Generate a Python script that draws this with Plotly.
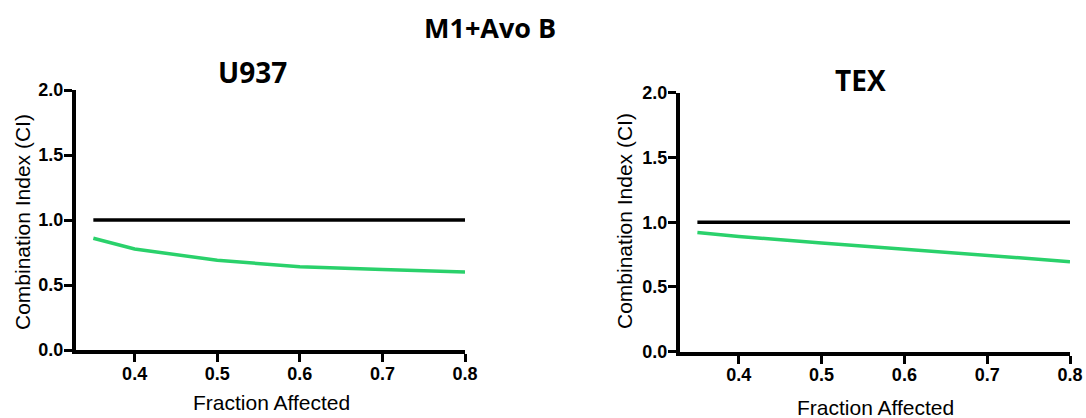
import plotly.graph_objects as go

fa = [0.35, 0.4, 0.5, 0.6, 0.7, 0.8]
ci_u937 = [0.86, 0.777, 0.69, 0.64, 0.62, 0.60]
ci_tex = [0.92, 0.89, 0.84, 0.79, 0.745, 0.695]
ref_x = [0.35, 0.8]
ref_y = [1.0, 1.0]
x_ticks = [0.4, 0.5, 0.6, 0.7, 0.8]
y_ticks = [0.0, 0.5, 1.0, 1.5, 2.0]

W, H = 1086, 418
green = "#2ad16b"

fig = go.Figure()
for xa, ya, ci in [("x", "y", ci_u937), ("x2", "y2", ci_tex)]:
    fig.add_trace(go.Scatter(x=ref_x, y=ref_y, mode="lines", line=dict(color="black", width=3.5),
                             xaxis=xa, yaxis=ya, showlegend=False, hoverinfo="skip"))
    fig.add_trace(go.Scatter(x=fa, y=ci, mode="lines", line=dict(color=green, width=3.5),
                             xaxis=xa, yaxis=ya, showlegend=False))

tickfont = dict(family="Liberation Sans, Arial", size=18, color="black", weight="bold")
axis_common = dict(showline=True, linecolor="black", linewidth=4, ticks="outside", ticklen=8,
                   tickwidth=3, tickcolor="black", showgrid=False, zeroline=False, tickfont=tickfont,
                   automargin=False)

fig.update_layout(
    width=W, height=H, autosize=False, margin=dict(l=0, r=0, t=0, b=0, pad=0),
    plot_bgcolor="white", paper_bgcolor="white",
    xaxis=dict(domain=[76 / W, 465 / W], range=[0.329, 0.8], tickvals=x_ticks,
               ticktext=[f"{v:.1f}" for v in x_ticks], anchor="y", ticklabelstandoff=-4,
               **axis_common),
    yaxis=dict(domain=[1 - 350 / H, 1 - 90 / H], range=[0, 2.0], tickvals=y_ticks,
               ticktext=[f"{v:.1f}" for v in y_ticks], anchor="x", ticklabelstandoff=-3,
               **axis_common),
    xaxis2=dict(domain=[680 / W, 1070 / W], range=[0.329, 0.8], tickvals=x_ticks,
                ticktext=[f"{v:.1f}" for v in x_ticks], anchor="y2", ticklabelstandoff=-4,
                **axis_common),
    yaxis2=dict(domain=[1 - 351.7 / H, 1 - 92.7 / H], range=[0, 2.0], tickvals=y_ticks,
                ticktext=[f"{v:.1f}" for v in y_ticks], anchor="x2", ticklabelstandoff=-3,
                **axis_common),
)

def ann(text, x, y, size, bold=False, angle=0, family="Liberation Sans, Arial"):
    fig.add_annotation(text=text, x=x / W, y=1 - y / H, xref="paper", yref="paper",
                       showarrow=False, textangle=angle, xanchor="center", yanchor="middle",
                       font=dict(family=family, size=size, color="black",
                                 weight="bold" if bold else "normal"))

ann("M1+Avo B", 490, 27, 27, bold=True, family="Open Sans, Lato")
ann("U937", 252, 72, 28, bold=True, family="Open Sans, Lato")
ann("TEX", 860, 80, 28, bold=True, family="Open Sans, Lato")
ann("Combination Index (CI)", 22, 222, 21, angle=-90)
ann("Combination Index (CI)", 624, 221, 21, angle=-90)
ann("Fraction Affected", 271, 402, 21)
ann("Fraction Affected", 875, 407, 21)

fig.write_html("out.html", config={"displayModeBar": False},
               post_script="document.body.style.margin='0';document.body.style.overflow='hidden';")
